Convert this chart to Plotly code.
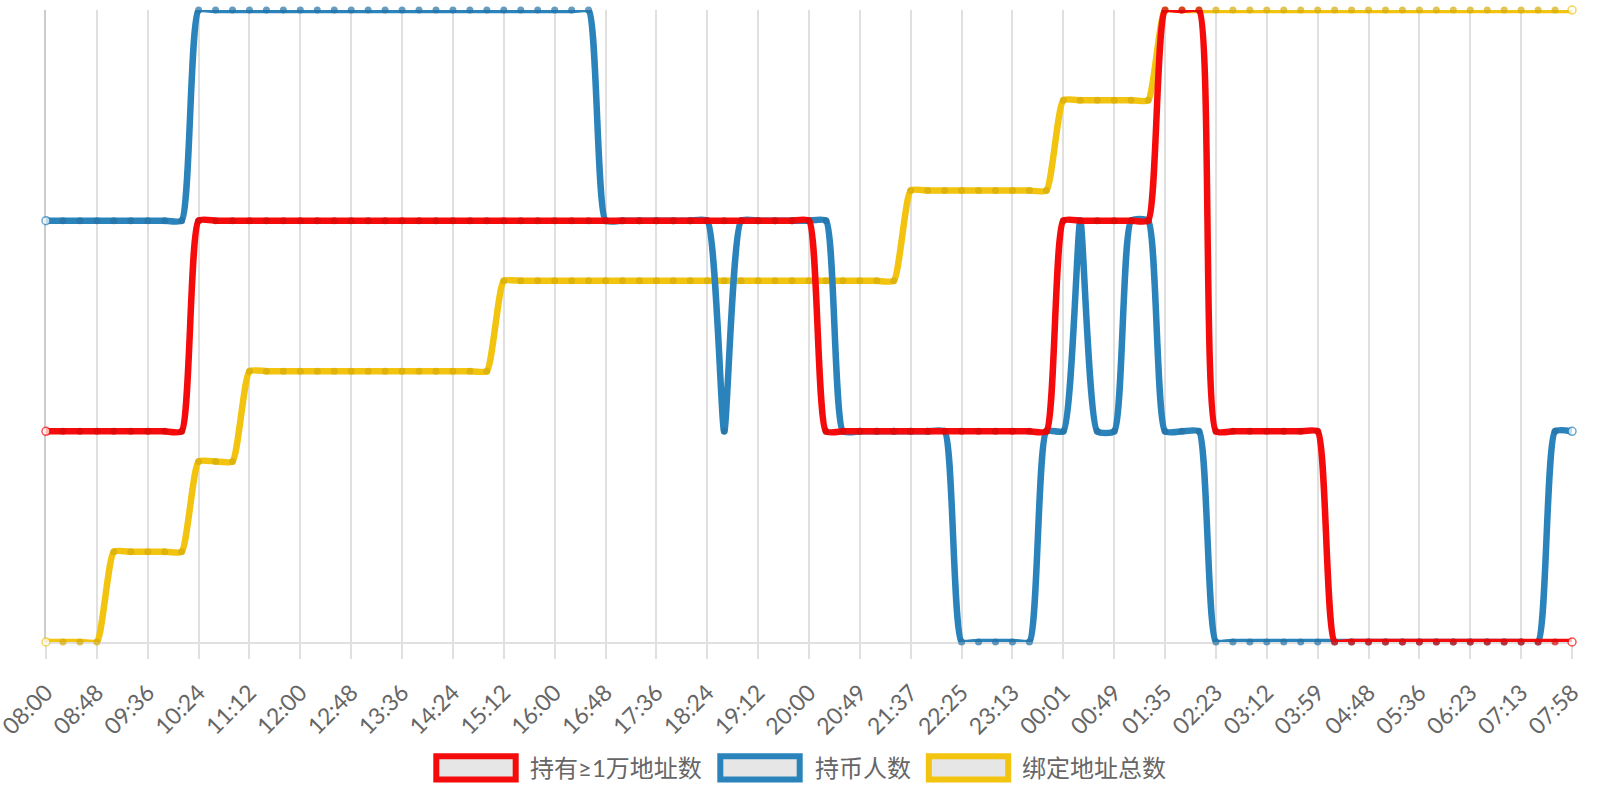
import plotly.graph_objects as go

# time labels on the x axis (one point every ~16 min)
times = ["08:00", "08:16", "08:32", "08:48", "09:04", "09:20", "09:36", "09:52", "10:08", "10:24",
         "10:40", "10:56", "11:12", "11:28", "11:44", "12:00", "12:16", "12:32", "12:48", "13:04",
         "13:20", "13:36", "13:52", "14:08", "14:24", "14:40", "14:56", "15:12", "15:28", "15:44",
         "16:00", "16:16", "16:32", "16:48", "17:04", "17:20", "17:36", "17:52", "18:08", "18:24",
         "18:40", "18:56", "19:12", "19:28", "19:44", "20:00", "20:16", "20:33", "20:49", "21:05",
         "21:21", "21:37", "21:53", "22:09", "22:25", "22:41", "22:57", "23:13", "23:29", "23:45",
         "00:01", "00:17", "00:33", "00:49", "01:04", "01:20", "01:35", "01:51", "02:07", "02:23",
         "02:39", "02:56", "03:12", "03:27", "03:43", "03:59", "04:15", "04:32", "04:48", "05:04",
         "05:20", "05:36", "05:51", "06:07", "06:23", "06:40", "06:56", "07:13", "07:28", "07:43",
         "07:58"]

# 持有≥1万地址数
big_holders = [119]*9 + [120]*37 + [119]*14 + [120]*6 + [121]*3 + [119]*7 + [118]*15
# 持币人数
holders = ([2048]*9 + [2049]*24 + [2048]*7 + [2047] + [2048]*6 + [2047]*7 + [2046]*5
           + [2047]*2 + [2048] + [2047]*2 + [2048]*2 + [2047]*3 + [2046]*20 + [2047]*2)
# 绑定地址总数
bound = [5310]*4 + [5311]*5 + [5312]*3 + [5313]*15 + [5314]*24 + [5315]*9 + [5316]*6 + [5317]*25

names = ["持有≥1万地址数", "持币人数", "绑定地址总数"]
colors = ["#F50B0B", "#2B83BB", "#F2C40F"]
dot_colors = ["#D80A0A", "#2673A6", "#D6AC0D"]

# plot area in pixels
L, R, T, B = 46, 1572, 10, 642


def px(x):
    return (x - L) / (R - L)


def py(y):
    return (B - y) / (B - T)


def line_trace(y, color, dot, name, axis):
    n = len(y)
    fill = ["white" if i in (0, n - 1) else dot for i in range(n)]
    size = [8 if i in (0, n - 1) else 5.5 for i in range(n)]
    edge = [color if i in (0, n - 1) else dot for i in range(n)]
    return go.Scatter(x=times, y=y, name=name, yaxis=axis, mode="lines+markers",
                      line=dict(color=color, width=6.5, shape="spline", smoothing=0.5),
                      marker=dict(color=fill, size=size, line=dict(color=edge, width=1.5)),
                      cliponaxis=False, showlegend=False)


fig = go.Figure()
# yellow at the bottom, red on top
fig.add_trace(line_trace(bound, colors[2], dot_colors[2], names[2], "y"))
fig.add_trace(line_trace(holders, colors[1], dot_colors[1], names[1], "y2"))
fig.add_trace(line_trace(big_holders, colors[0], dot_colors[0], names[0], "y3"))

hidden = dict(showgrid=False, zeroline=False, showticklabels=False, ticks="")
fig.update_layout(
    width=1600, height=800,
    margin=dict(l=L, r=1600 - R, t=T, b=800 - B, autoexpand=False),
    plot_bgcolor="white", paper_bgcolor="white",
    font=dict(family="Lato, 'Noto Sans CJK SC', sans-serif", color="#666666"),
    xaxis=dict(type="category", range=[0, len(times) - 1], tickvals=times[::3],
               tickangle=-45, tickfont=dict(size=23, color="#666666"), automargin=False,
               showgrid=True, gridcolor="#e0e0e0", gridwidth=2,
               ticks="outside", ticklen=15, tickwidth=2, tickcolor="#e0e0e0",
               ticklabelstandoff=11, layer="below traces",
               showline=True, linecolor="#e0e0e0", linewidth=2),
    yaxis=dict(range=[min(bound), max(bound)], showline=True, linecolor="#cccccc",
               linewidth=2, automargin=False, layer="below traces", **hidden),
    yaxis2=dict(range=[min(holders), max(holders)], overlaying="y", visible=False),
    yaxis3=dict(range=[min(big_holders), max(big_holders)], overlaying="y", visible=False),
)

# legend drawn by hand: wide box with thick coloured border, then the name
legend_x = [(433.3, 528), (717.3, 812.7), (925.8, 1020.3)]
for k, (bx, tx) in enumerate(legend_x):
    fig.add_shape(type="rect", xref="paper", yref="paper",
                  x0=px(bx + 3), x1=px(bx + 85.4 - 3),
                  y0=py(753.3 + 3), y1=py(782.5 - 3),
                  line=dict(color=colors[k], width=6), fillcolor="#e6e6e6")
    fig.add_annotation(text=names[k], xref="paper", yref="paper", x=px(tx), y=py(767.8),
                       xanchor="left", yanchor="middle", showarrow=False,
                       font=dict(size=24, color="#666666"))

# drop the default 8px body margin so the chart sits at the page corner
fig.write_html("out.html", config={"displayModeBar": False},
               post_script="document.body.style.margin='0px';")
